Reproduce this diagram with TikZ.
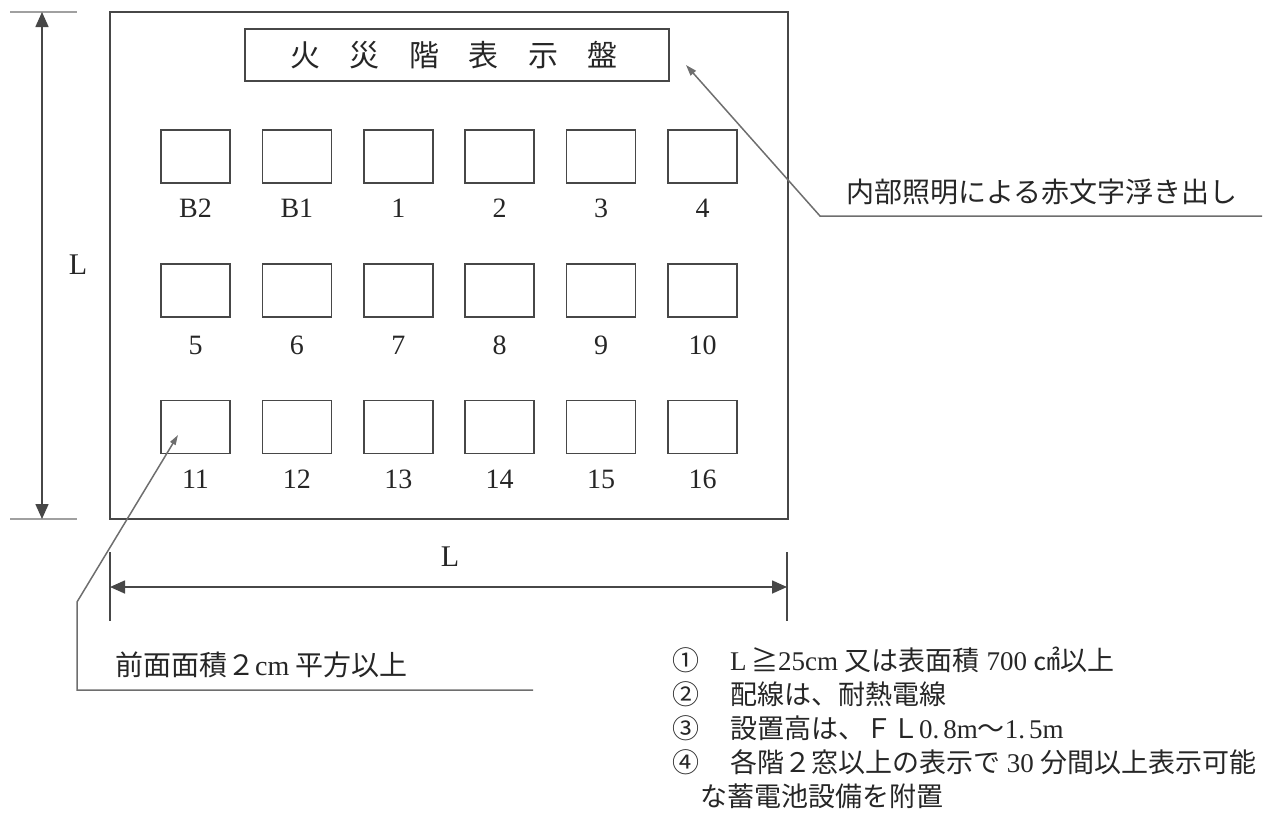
\documentclass[tikz,border=0pt]{standalone}
\usepackage{fontspec}
\usetikzlibrary{arrows.meta}
\setmainfont{Liberation Serif}
\newfontfamily\cjk{Noto Sans CJK JP}
\newcommand\jp[1]{{\cjk #1}}
\definecolor{ink}{HTML}{262626}
\definecolor{linegray}{HTML}{474747}
\definecolor{leadgray}{HTML}{6E6E6E}
\definecolor{lightline}{HTML}{A0A0A0}
\tikzset{
  panel/.style={draw=linegray, line width=2pt, inner sep=0pt, outer sep=0pt},
  win/.style={draw=linegray, line width=1.6pt, minimum width=69pt, minimum height=53pt, inner sep=0pt, outer sep=0pt},
  num/.style={text=ink, font=\fontsize{28}{30}\selectfont, inner sep=0pt},
  dimlbl/.style={text=ink, font=\fontsize{30}{32}\selectfont, inner sep=0pt},
  jptext/.style={text=ink, font=\fontsize{28}{32}\selectfont\cjk, inner sep=0pt},
  note/.style={text=ink, font=\fontsize{27}{32}\selectfont, inner sep=0pt, anchor=west},
  tickline/.style={draw=lightline, line width=2pt},
  dtick/.style={draw=linegray, line width=1.5pt},
  dimline/.style={draw=linegray, line width=1.6pt, {Triangle[length=15pt,width=13pt]}-{Triangle[length=15pt,width=13pt]}},
  leader/.style={draw=leadgray, line width=1.5pt, -{Triangle[length=11pt,width=7pt]}}
}
\begin{document}
\begin{tikzpicture}[x=1pt,y=-1pt]
\useasboundingbox (0,0) rectangle (1274,814);

% panel
\node[panel, minimum width=678pt, minimum height=507pt, anchor=north west] (panel) at (110,12) {};

% title box
\node[panel, line width=1.8pt, minimum width=424pt, minimum height=52pt] (titlebox) at (457,55) {};
\node[text=ink, font=\fontsize{30}{32}\selectfont\cjk, inner sep=0pt] (title) at (454,55)
  {火\hspace{29.6pt}災\hspace{29.6pt}階\hspace{29.6pt}表\hspace{29.6pt}示\hspace{29.6pt}盤};

% windows and labels
\foreach \lab [count=\i from 0] in {B2,B1,1,2,3,4}{
  \node[win] (w1-\i) at (195.5+\i*101.4,156.5) {};
  \node[num] (l1-\i) at (195.5+\i*101.4,208) {\lab};
}
\foreach \lab [count=\i from 0] in {5,6,7,8,9,10}{
  \node[win] (w2-\i) at (195.5+\i*101.4,290.5) {};
  \node[num] (l2-\i) at (195.5+\i*101.4,345) {\lab};
}
\foreach \lab [count=\i from 0] in {11,12,13,14,15,16}{
  \node[win] (w3-\i) at (195.5+\i*101.4,427) {};
  \node[num] (l3-\i) at (195.5+\i*101.4,479) {\lab};
}

% vertical dimension
\coordinate (vt1) at (10,12);  \coordinate (vt2) at (77,12);
\coordinate (vb1) at (10,519); \coordinate (vb2) at (77,519);
\coordinate (vd1) at (42,12);  \coordinate (vd2) at (42,519);
\draw[tickline] (vt1) -- (vt2);
\draw[tickline] (vb1) -- (vb2);
\draw[dimline] (vd1) -- (vd2);
\node[dimlbl] (Lv) at (78,265) {L};

% horizontal dimension
\coordinate (hl1) at (110,552); \coordinate (hl2) at (110,621);
\coordinate (hr1) at (787,552); \coordinate (hr2) at (787,621);
\coordinate (hd1) at (110,587); \coordinate (hd2) at (787,587);
\draw[dtick] (hl1) -- (hl2);
\draw[dtick] (hr1) -- (hr2);
\draw[dimline] (hd1) -- (hd2);
\node[dimlbl] (Lh) at (450,557) {L};

% top-right callout
\node[jptext] (c1) at (1042,192) {内部照明による赤文字浮き出し};
\coordinate (a1) at (1262,216);
\coordinate (a2) at (820,216);
\coordinate (atip) at (686,65);
\draw[leader] (a1) -- (a2) -- (atip);

% bottom-left callout
\node[jptext, anchor=west] (c2) at (115,665) {前面面積２{\rmfamily cm} 平方以上};
\coordinate (b1) at (533,690);
\coordinate (b2) at (77,690);
\coordinate (b3) at (77,602);
\coordinate (btip) at (178,435);
\draw[leader, -{Triangle[length=10pt,width=6pt]}] (b1) -- (b2) -- (b3) -- (btip);

% notes
\node[note] (n1) at (672,660) {\makebox[58pt][l]{\jp{①}}L\,\jp{≧}25cm \jp{又は表面積} 700 \jp{㎠以上}};
\node[note] (n2) at (672,694) {\makebox[58pt][l]{\jp{②}}\jp{配線は、耐熱電線}};
\node[note] (n3) at (672,728) {\makebox[58pt][l]{\jp{③}}\jp{設置高は、ＦＬ}0.\kern4pt8m\jp{～}1.\kern4pt5m};
\node[note] (n4) at (672,762) {\makebox[58pt][l]{\jp{④}}\jp{各階２窓以上の表示で} 30 \jp{分間以上表示可能}};
\node[note] (n5) at (700,796) {\jp{な蓄電池設備を附置}};
\end{tikzpicture}
\end{document}
